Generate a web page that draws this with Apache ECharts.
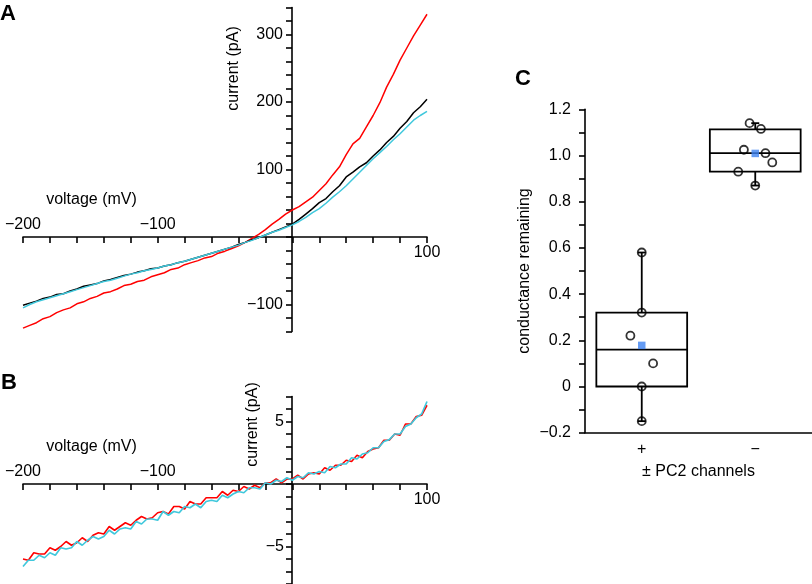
<!DOCTYPE html>
<html><head><meta charset="utf-8">
<script src="https://cdn.jsdelivr.net/npm/echarts@6/dist/echarts.min.js"></script>
<style>html,body{margin:0;padding:0;background:#fff}#c{width:812px;height:584px}</style>
</head><body><div id="c"></div>
<script>
const FONT = '"Liberation Sans", Arial, Helvetica, sans-serif';

// ---- Panel A: whole-cell I-V (voltage mV, current pA)
const voltsA = [-200,-195,-190,-185,-180,-175,-170,-165,-160,-155,-150,-145,-140,-135,-130,-125,-120,-115,-110,-105,-100,-95,-90,-85,-80,-75,-70,-65,-60,-55,-50,-45,-40,-35,-30,-25,-20,-15,-10,-5,0,5,10,15,20,25,30,35,40,45,50,55,60,65,70,75,80,85,90,95,100];
const redA = [-135,-131,-127,-121,-118,-112,-108,-105,-99,-96,-91,-88,-83,-81,-77,-72,-70,-66,-64,-59,-56,-53,-48,-46,-41,-38,-35,-31,-29,-24,-21,-17,-13,-8,-2,4,11,19,26,34,40,45,52,59,69,79,92,104,122,138,146,163,180,199,222,241,262,280,298,314,330];
const blackA = [-101,-98,-95,-91,-89,-85,-84,-80,-77,-73,-71,-69,-65,-63,-60,-57,-55,-52,-50,-47,-46,-43,-41,-38,-36,-33,-30,-27,-24,-21,-18,-15,-11,-8,-4,-1,3,7,11,15,19,26,34,42,51,57,67,76,89,96,104,110,120,129,140,149,161,171,184,193,204];
const cyanA = [-105,-100,-96,-93,-90,-87,-84,-81,-78,-75,-72,-69,-66,-64,-61,-58,-55,-53,-50,-48,-46,-43,-41,-38,-36,-33,-30,-27,-24,-21,-18,-15,-12,-8,-5,-1,3,7,10,14,18,23,29,36,42,50,59,67,76,86,96,106,116,125,134,144,153,163,173,180,186];

// ---- Panel B
const voltsB = [-200,-196,-192,-188,-184,-180,-176,-172,-168,-164,-160,-156,-152,-148,-144,-140,-136,-132,-128,-124,-120,-116,-112,-108,-104,-100,-96,-92,-88,-84,-80,-76,-72,-68,-64,-60,-56,-52,-48,-44,-40,-36,-32,-28,-24,-20,-16,-12,-8,-4,0,4,8,12,16,20,24,28,32,36,40,44,48,52,56,60,64,68,72,76,80,84,88,92,96,100];
const redB = [-6.0,-6.1,-5.5,-5.6,-5.6,-5.1,-5.3,-5.0,-4.6,-4.9,
  -4.7,-4.3,-4.6,-4.1,-3.9,-4.0,-3.4,-3.7,-3.4,-3.1,
  -3.3,-2.9,-2.6,-2.8,-2.7,-2.3,-2.2,-2.4,-1.8,-1.8,
  -2.0,-1.4,-1.6,-1.6,-1.1,-1.1,-1.1,-0.6,-0.9,-0.5,
  -0.6,-0.2,-0.4,-0.1,-0.3,0.1,0.1,0.4,0.1,0.4,
  0.4,0.7,0.4,0.8,0.9,0.8,1.3,1.1,1.5,1.5,
  1.9,1.8,2.3,2.1,2.6,2.8,2.9,3.5,3.5,4.0,
  3.9,4.8,4.8,5.4,5.5,6.3];
const cyanB = [-6.6,-6.1,-6.1,-5.7,-5.9,-5.5,-5.7,-5.1,-5.2,-5.1,
  -4.6,-4.9,-4.5,-4.2,-4.4,-4.2,-3.7,-4.0,-3.6,-3.5,
  -3.6,-3.0,-3.2,-2.8,-2.8,-2.9,-2.2,-2.5,-2.2,-2.3,
  -1.8,-1.9,-1.6,-1.9,-1.4,-1.3,-1.4,-0.9,-1.1,-0.8,
  -0.6,-0.7,-0.3,-0.3,-0.4,0.1,0.0,0.3,0.2,0.5,
  0.3,0.6,0.5,0.9,0.8,1.0,0.9,1.4,1.3,1.6,
  1.6,2.1,2.0,2.4,2.5,2.9,2.9,3.4,3.55,4.0,
  4.0,4.6,4.8,5.3,5.6,6.6];

// ---- Panel C: conductance remaining
const groups = ['+', '\u2212'];
const plusValues = [0.58, 0.32, 0.22, 0.10, 0.0, -0.15];
const plusJitter = [0, 0, -0.1, 0.1, 0, 0];
const minusValues = [1.14, 1.115, 1.025, 1.01, 0.97, 0.93, 0.87];
const minusJitter = [-0.05, 0.05, -0.1, 0.09, 0.15, -0.15, 0];
const boxMin = [-0.15, 0.87];
const boxQ1 = [0.0, 0.93];
const boxMedian = [0.16, 1.01];
const boxQ3 = [0.32, 1.113];
const boxMax = [0.58, 1.14];
const groupMeans = [0.178, 1.009];

const labelsAY = [-100, 100, 200, 300];
const labelsAXBottom = [100];
const labelsAXTop = [-200, -100];
const labelsBY = [-5, 5];

const fmt = v => (v < 0 ? '\u2212' + Math.abs(v) : String(v));
const axisLine = {color: '#000', width: 1.6};
const lbl = {color: '#000', fontSize: 16, fontFamily: FONT};

function mainX(grid, off) {
  return {gridIndex: grid, type: 'value', position: 'bottom', offset: off, min: -200, max: 100, interval: 20,
    axisLine: {onZero: false, lineStyle: axisLine},
    axisTick: {length: 6, lineStyle: axisLine},
    splitLine: {show: false},
    axisLabel: Object.assign({margin: 8, formatter: v => labelsAXBottom.includes(v) ? fmt(v) : ''}, lbl)};
}
function topX(grid, off) {
  return {gridIndex: grid, type: 'value', position: 'top', offset: off, min: -200, max: 100, interval: 100,
    axisLine: {show: false, onZero: false}, axisTick: {show: false}, splitLine: {show: false},
    axisLabel: Object.assign({margin: 4, formatter: v => labelsAXTop.includes(v) ? fmt(v) : ''}, lbl)};
}

const chart = echarts.init(document.getElementById('c'));
const option = {
  animation: false,
  backgroundColor: '#fff',
  title: [
    {text: 'A', left: 0, top: 3, padding: 0, textStyle: {fontFamily: FONT, fontSize: 22, fontWeight: 'bold', color: '#000'}},
    {text: 'B', left: 1, top: 372, padding: 0, textStyle: {fontFamily: FONT, fontSize: 22, fontWeight: 'bold', color: '#000'}},
    {text: 'C', left: 515, top: 68, padding: 0, textStyle: {fontFamily: FONT, fontSize: 22, fontWeight: 'bold', color: '#000'}}
  ],
  grid: [
    {left: 23, top: 7.5, width: 404, height: 324, containLabel: false, outerBoundsMode: 'none'},
    {left: 23, top: 396.5, width: 404, height: 187.5, containLabel: false, outerBoundsMode: 'none'},
    {left: 585, top: 109.3, width: 227, height: 323.4, containLabel: false, outerBoundsMode: 'none'}
  ],
  xAxis: [
    mainX(0, -94.5), topX(0, -229.5),
    mainX(1, -100), topX(1, -87.5),
    {gridIndex: 2, type: 'category', data: groups, boundaryGap: true,
      axisLine: {onZero: false, lineStyle: axisLine},
      axisTick: {alignWithLabel: true, length: 6, lineStyle: axisLine},
      axisLabel: Object.assign({margin: 9}, lbl),
      name: '\u00b1 PC2 channels', nameLocation: 'middle', nameGap: 31,
      nameTextStyle: {color: '#000', fontSize: 16, fontFamily: FONT}},
    {gridIndex: 2, type: 'value', min: -0.5, max: 1.5, show: false}
  ],
  yAxis: [
    {gridIndex: 0, type: 'value', position: 'left', offset: -269, min: -140, max: 340, interval: 20,
      axisLine: {onZero: false, lineStyle: axisLine},
      axisTick: {length: 6, lineStyle: axisLine}, splitLine: {show: false},
      axisLabel: Object.assign({margin: 9, formatter: v => labelsAY.includes(v) ? fmt(v) : ''}, lbl)},
    {gridIndex: 1, type: 'value', position: 'left', offset: -269, min: -8, max: 7, interval: 1,
      axisLine: {onZero: false, lineStyle: axisLine},
      axisTick: {length: 6, lineStyle: axisLine}, splitLine: {show: false},
      axisLabel: Object.assign({margin: 8, formatter: v => labelsBY.includes(v) ? fmt(v) : ''}, lbl)},
    {gridIndex: 2, type: 'value', min: -0.2, max: 1.2, interval: 0.1,
      axisLine: {onZero: false, lineStyle: axisLine},
      axisTick: {length: 6, lineStyle: axisLine}, splitLine: {show: false},
      axisLabel: Object.assign({margin: 14, formatter: v => {
        const k = Math.round(v * 10);
        if (k % 2 !== 0) return '';
        if (k === 0) return '0';
        return (k < 0 ? '\u2212' : '') + Math.abs(k / 10).toFixed(1);
      }}, lbl),
      name: 'conductance remaining', nameLocation: 'middle', nameGap: 52,
      nameTextStyle: {color: '#000', fontSize: 16, fontFamily: FONT}}
  ],
  graphic: [
    {type: 'text', x: 234, y: 68.5, rotation: Math.PI / 2, style: {text: 'current (pA)', fill: '#000', font: '16px ' + FONT, textAlign: 'center', textVerticalAlign: 'middle'}},
    {type: 'text', x: 91.5, y: 200, style: {text: 'voltage (mV)', fill: '#000', font: '16px ' + FONT, textAlign: 'center', textVerticalAlign: 'middle'}},
    {type: 'text', x: 253, y: 424.5, rotation: Math.PI / 2, style: {text: 'current (pA)', fill: '#000', font: '16px ' + FONT, textAlign: 'center', textVerticalAlign: 'middle'}},
    {type: 'text', x: 91.5, y: 447, style: {text: 'voltage (mV)', fill: '#000', font: '16px ' + FONT, textAlign: 'center', textVerticalAlign: 'middle'}}
  ],
  series: [
    {type: 'line', xAxisIndex: 0, yAxisIndex: 0, showSymbol: false, data: voltsA.map((v, i) => [v, redA[i]]), lineStyle: {color: '#ff0000', width: 1.5}},
    {type: 'line', xAxisIndex: 0, yAxisIndex: 0, showSymbol: false, data: voltsA.map((v, i) => [v, blackA[i]]), lineStyle: {color: '#000000', width: 1.5}},
    {type: 'line', xAxisIndex: 0, yAxisIndex: 0, showSymbol: false, data: voltsA.map((v, i) => [v, cyanA[i]]), lineStyle: {color: '#40c8dc', width: 1.5}},
    {type: 'line', xAxisIndex: 2, yAxisIndex: 1, showSymbol: false, data: voltsB.map((v, i) => [v, redB[i]]), lineStyle: {color: '#ff0000', width: 1.6}},
    {type: 'line', xAxisIndex: 2, yAxisIndex: 1, showSymbol: false, data: voltsB.map((v, i) => [v, cyanB[i]]), lineStyle: {color: '#40c8dc', width: 1.7}},
    {type: 'custom', xAxisIndex: 4, yAxisIndex: 2,
      data: groups.map((g, i) => [i, boxMin[i], boxQ1[i], boxMedian[i], boxQ3[i], boxMax[i]]),
      encode: {x: 0, y: [1, 2, 3, 4, 5]},
      renderItem: (params, api) => {
        const i = api.value(0);
        const lo = api.coord([i, api.value(1)]);
        const q1 = api.coord([i, api.value(2)]);
        const med = api.coord([i, api.value(3)]);
        const q3 = api.coord([i, api.value(4)]);
        const hi = api.coord([i, api.value(5)]);
        const bw = api.size([1, 0])[0] * 0.8;
        const cx = lo[0];
        const st = {stroke: '#000', lineWidth: 1.8};
        return {type: 'group', children: [
          {type: 'line', shape: {x1: cx, y1: q3[1], x2: cx, y2: hi[1]}, style: st},
          {type: 'line', shape: {x1: cx, y1: q1[1], x2: cx, y2: lo[1]}, style: st},
          {type: 'line', shape: {x1: cx - 4, y1: hi[1], x2: cx + 4, y2: hi[1]}, style: st},
          {type: 'line', shape: {x1: cx - 4, y1: lo[1], x2: cx + 4, y2: lo[1]}, style: st},
          {type: 'rect', shape: {x: cx - bw / 2, y: q3[1], width: bw, height: q1[1] - q3[1]}, style: {stroke: '#000', lineWidth: 1.8, fill: 'none'}},
          {type: 'line', shape: {x1: cx - bw / 2, y1: med[1], x2: cx + bw / 2, y2: med[1]}, style: st}
        ]};
      }},
    {type: 'scatter', xAxisIndex: 5, yAxisIndex: 2, symbol: 'circle', symbolSize: 8,
      itemStyle: {color: 'rgba(0,0,0,0)', borderColor: '#000', borderWidth: 1.8},
      data: plusValues.map((v, i) => [0 + plusJitter[i], v]).concat(minusValues.map((v, i) => [1 + minusJitter[i], v]))},
    {type: 'scatter', xAxisIndex: 5, yAxisIndex: 2, symbol: 'rect', symbolSize: 7.5,
      itemStyle: {color: '#3d82f0'},
      data: groupMeans.map((m, i) => [i, m])}
  ]
};
chart.setOption(option);
</script></body></html>
